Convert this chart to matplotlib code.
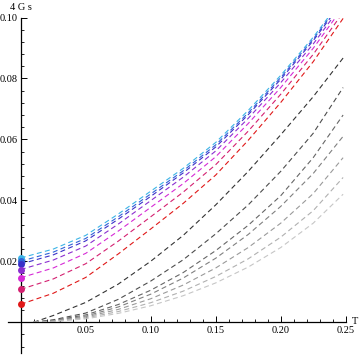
import matplotlib
matplotlib.use('Agg')
import matplotlib.pyplot as plt
from matplotlib.ticker import MultipleLocator, FixedLocator

plt.rcParams['font.family'] = ['Liberation Serif', 'DejaVu Serif']

# temperature grid for the coloured curves (start at T = 0)
T_col = [0, 0.025, 0.05, 0.075, 0.10, 0.125, 0.15, 0.175, 0.20, 0.225, 0.248]
# temperature grid for the grey curves (start a little after 0)
T_gray = [0.01, 0.025, 0.05, 0.075, 0.10, 0.125, 0.15, 0.175, 0.20, 0.225, 0.248]

cyan    = [0.0211, 0.0240, 0.0285, 0.0355, 0.0430, 0.0505, 0.0590, 0.0695, 0.0810, 0.0935, 0.1065]
blue    = [0.0200, 0.0230, 0.0275, 0.0346, 0.0421, 0.0497, 0.0582, 0.0687, 0.0803, 0.0929, 0.1060]
indigo  = [0.0191, 0.0221, 0.0267, 0.0338, 0.0413, 0.0490, 0.0575, 0.0681, 0.0797, 0.0924, 0.1055]
purple  = [0.0173, 0.0204, 0.0250, 0.0322, 0.0399, 0.0476, 0.0562, 0.0669, 0.0786, 0.0913, 0.1046]
magenta = [0.0146, 0.0178, 0.0226, 0.0299, 0.0377, 0.0455, 0.0543, 0.0652, 0.0770, 0.0899, 0.1034]
crimson = [0.0108, 0.0142, 0.0192, 0.0266, 0.0346, 0.0427, 0.0517, 0.0627, 0.0748, 0.0879, 0.1017]
red     = [0.0059, 0.0095, 0.0147, 0.0224, 0.0306, 0.0390, 0.0483, 0.0597, 0.0721, 0.0855, 0.0997]

gray1 = [0.0, 0.0022, 0.0065, 0.0125, 0.0200, 0.0285, 0.0385, 0.0495, 0.0615, 0.0740, 0.0867]
gray2 = [0.0, 0.0008, 0.0030, 0.0075, 0.0135, 0.0205, 0.0290, 0.0385, 0.0495, 0.0620, 0.0770]
gray3 = [0.0, 0.0006, 0.0024, 0.0058, 0.0105, 0.0163, 0.0235, 0.0318, 0.0415, 0.0540, 0.0680]
gray4 = [0.0, 0.0005, 0.0020, 0.0050, 0.0092, 0.0145, 0.0210, 0.0288, 0.0380, 0.0488, 0.0610]
gray5 = [0.0, 0.0004, 0.0017, 0.0042, 0.0077, 0.0122, 0.0178, 0.0245, 0.0325, 0.0422, 0.0540]
gray6 = [0.0, 0.0003, 0.0014, 0.0035, 0.0064, 0.0102, 0.0150, 0.0208, 0.0279, 0.0366, 0.0475]
gray7 = [0.0, 0.0002, 0.0011, 0.0029, 0.0054, 0.0087, 0.0129, 0.0181, 0.0245, 0.0325, 0.0420]

col_series = [cyan, blue, indigo, purple, magenta, crimson, red]
col_colors = ['#3cb4e6', '#2f62d8', '#3a30c8', '#8a2ed0', '#d62ad6', '#d42070', '#e01818']
gray_series = [gray1, gray2, gray3, gray4, gray5, gray6, gray7]
gray_colors = ['#333333', '#4d4d4d', '#666666', '#808080', '#9a9a9a', '#b0b0b0', '#c6c6c6']

x_ticks = [0.05, 0.10, 0.15, 0.20, 0.25]
x_labels = ['0.05', '0.10', '0.15', '0.20', '0.25']
y_ticks = [0.02, 0.04, 0.06, 0.08, 0.10]
y_labels = ['0.02', '0.04', '0.06', '0.08', '0.10']

fig = plt.figure(figsize=(3.6, 3.55), dpi=100)
ax = fig.add_axes([8 / 360, 2 / 355, (345.7 - 8) / 360, (353 - 17.5) / 355])

dash = (0, (4.5, 3))
for vals, c in zip(gray_series, gray_colors):
    ax.plot(T_gray, vals, color=c, lw=0.8, linestyle=dash)
for vals, c in zip(col_series, col_colors):
    ax.plot(T_col, vals, color=c, lw=0.8, linestyle=dash)
for vals, c in zip(col_series, col_colors):
    ax.plot([T_col[0]], [vals[0]], 'o', color=c, ms=5, mec='none', clip_on=False, zorder=5)

ax.set_xlim(-0.0098, 0.25)
ax.set_ylim(-0.0101, 0.10)

for s in ['top', 'right']:
    ax.spines[s].set_visible(False)
ax.spines['left'].set_position(('data', 0))
ax.spines['bottom'].set_position(('data', 0))
for s in ['left', 'bottom']:
    ax.spines[s].set_linewidth(0.9)

ax.xaxis.set_major_locator(FixedLocator(x_ticks))
ax.set_xticklabels(x_labels)
ax.yaxis.set_major_locator(FixedLocator(y_ticks))
ax.set_yticklabels(y_labels)
ax.xaxis.set_minor_locator(MultipleLocator(0.01))
ax.yaxis.set_minor_locator(MultipleLocator(0.004))
ax.tick_params(which='major', direction='in', length=4, width=0.7, labelsize=7.5, pad=2.5)
ax.tick_params(which='minor', direction='in', length=2.3, width=0.6)

fig.text(21 / 360, 1 - 8 / 355, '4 G s', fontsize=7.5, ha='center', va='center')
fig.text(355 / 360, 1 - 321 / 355, 'T', fontsize=7.5, ha='center', va='center')

fig.savefig('out.png', dpi=100)
